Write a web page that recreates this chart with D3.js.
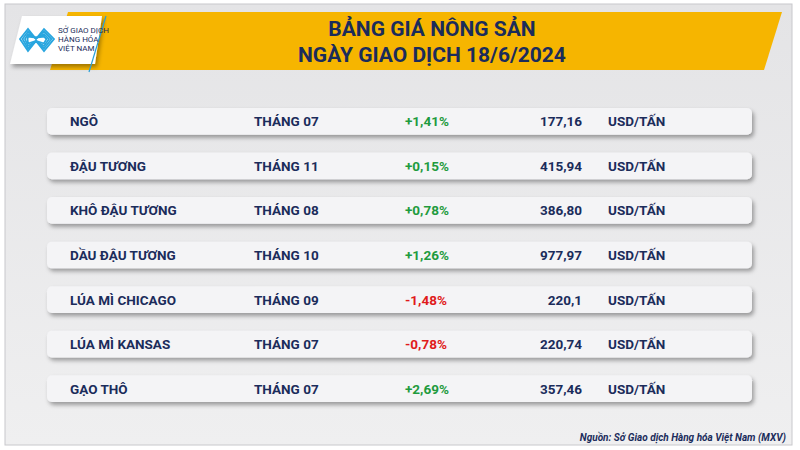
<!DOCTYPE html>
<html><head><meta charset="utf-8">
<script src="https://cdn.jsdelivr.net/npm/d3@7"></script>
<style>body{margin:0;background:#fff}</style>
</head><body><div id="wrapper"></div>
<script>
const names = ["NGÔ","ĐẬU TƯƠNG","KHÔ ĐẬU TƯƠNG","DẦU ĐẬU TƯƠNG","LÚA MÌ CHICAGO","LÚA MÌ KANSAS","GẠO THÔ"];
const months = ["THÁNG 07","THÁNG 11","THÁNG 08","THÁNG 10","THÁNG 09","THÁNG 07","THÁNG 07"];
const changes = ["+1,41%","+0,15%","+0,78%","+1,26%","-1,48%","-0,78%","+2,69%"];
const prices = ["177,16","415,94","386,80","977,97","220,1","220,74","357,46"];
const unit = "USD/TẤN";

const width = 800, height = 450;
const svg = d3.select("#wrapper").append("svg").attr("width", width).attr("height", height);
const defs = svg.append("defs");
const f = defs.append("filter").attr("id","sh").attr("x","-5%").attr("y","-30%").attr("width","110%").attr("height","180%");
f.append("feDropShadow").attr("dx",2).attr("dy",3).attr("stdDeviation",2).attr("flood-color","#000").attr("flood-opacity",0.35);
const bg = defs.append("linearGradient").attr("id","bg").attr("x1",0).attr("y1",0).attr("x2",0).attr("y2",1);
bg.append("stop").attr("offset",0).attr("stop-color","#e4e4e6");
bg.append("stop").attr("offset",1).attr("stop-color","#efeff0");

svg.append("rect").attr("x",5).attr("y",4).attr("width",787).attr("height",441)
  .attr("fill","url(#bg)").attr("stroke","#c8c8cc");

// banner
svg.append("path").attr("d","M68,12 L782,12 L764,70 L50,70 Z").attr("fill","#f6b500");
svg.append("path").attr("d","M22,16 L102,16 L95,64 L10,64 Z").attr("fill","#fff").attr("filter","url(#sh)");
svg.append("line").attr("x1",106).attr("y1",16).attr("x2",89).attr("y2",72).attr("stroke","#2a9fd8").attr("stroke-width",1.2);
// logo mark: nested zigzags
const lg = svg.append("g").attr("transform","translate(20,29)").attr("fill","none").attr("stroke","#29a6df").attr("stroke-width",1.8);
[0,1,2,3].forEach(i=>{
  const o = i*2.5;
  lg.append("path").attr("d",`M${o},${10} L${8},${o} L${16},${10-o*0.2} L${24},${o} L${34-o},${10} L${24},${22-o} L16,${12} L8,${22-o} Z`);
});
svg.append("text").attr("x",58).attr("y",33).text("SỞ GIAO DỊCH").attr("font-family","Roboto").attr("font-size",8).attr("fill","#1b2c5b");
svg.append("text").attr("x",58).attr("y",42).text("HÀNG HÓA").attr("font-family","Roboto").attr("font-size",8).attr("fill","#1b2c5b");
svg.append("text").attr("x",58).attr("y",51).text("VIỆT NAM").attr("font-family","Roboto").attr("font-size",8).attr("fill","#1b2c5b");

const title = svg.append("g").attr("font-family","'Liberation Sans Narrow', 'Roboto', sans-serif").attr("font-weight","bold").attr("font-size",21).attr("fill","#1b2c5b").attr("text-anchor","middle");
title.append("text").attr("x",432).attr("y",36).text("BẢNG GIÁ NÔNG SẢN");
title.append("text").attr("x",432).attr("y",62).text("NGÀY GIAO DỊCH 18/6/2024");

const y = d3.scaleBand().domain(d3.range(names.length)).range([99,411]).paddingInner(0.4).paddingOuter(0.2);
const rows = svg.selectAll("g.row").data(names).join("g").attr("class","row")
  .attr("transform",(d,i)=>`translate(0,${y(i)})`);
rows.append("rect").attr("x",47).attr("width",705).attr("height",y.bandwidth()).attr("rx",5)
  .attr("fill","#f4f4f6").attr("filter","url(#sh)");
const ty = y.bandwidth()/2 + 5;
const txt = (sel,x,fn,anchor,color)=>sel.append("text").attr("x",x).attr("y",ty).text(fn)
  .attr("text-anchor",anchor).attr("fill",color).attr("font-family","Roboto, sans-serif").attr("font-weight","bold").attr("font-size",13.5);
txt(rows,70,d=>d,"start","#1b2c5b");
txt(rows,254,(d,i)=>months[i],"start","#1b2c5b");
rows.each(function(d,i){
  const c = changes[i];
  txt(d3.select(this),405,c,"start",c.startsWith("-")?"#e01b1b":"#1f9b3e");
});
txt(rows,582,(d,i)=>prices[i],"end","#1b2c5b");
txt(rows,608,unit,"start","#1b2c5b");

svg.append("text").attr("x",786).attr("y",441).attr("text-anchor","end").text("Nguồn: Sở Giao dịch Hàng hóa Việt Nam (MXV)")
  .attr("font-family","Roboto").attr("font-style","italic").attr("font-weight","bold").attr("font-size",10).attr("fill","#1b2c5b");
</script></body></html>
